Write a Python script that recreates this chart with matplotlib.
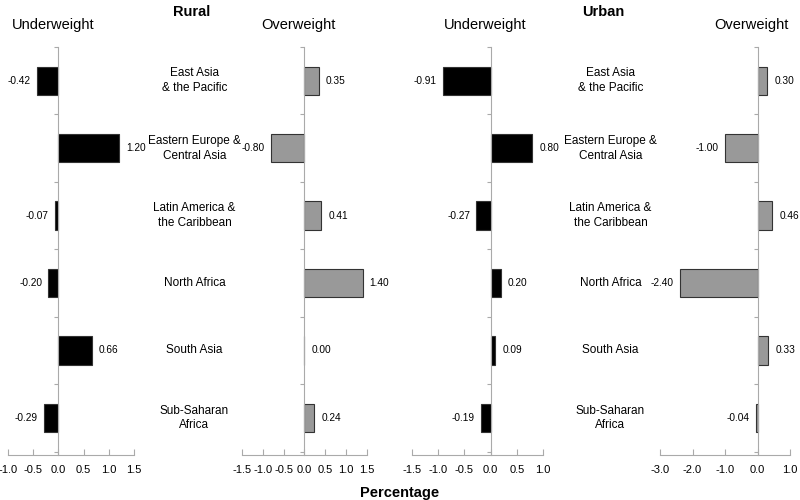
import numpy as np
import matplotlib.pyplot as plt

plt.rcParams['font.family'] = ['Liberation Sans', 'DejaVu Sans']

regions = ['East Asia\n& the Pacific', 'Eastern Europe &\nCentral Asia',
           'Latin America &\nthe Caribbean', 'North Africa', 'South Asia',
           'Sub-Saharan\nAfrica']

rural_under = [-0.42, 1.20, -0.07, -0.20, 0.66, -0.29]
rural_over = [0.35, -0.80, 0.41, 1.40, 0.00, 0.24]
urban_under = [-0.91, 0.80, -0.27, 0.20, 0.09, -0.19]
urban_over = [0.30, -1.00, 0.46, -2.40, 0.33, -0.04]

under_color = 'black'
over_color = '#999999'
spine_color = '#aaaaaa'

fig = plt.figure(figsize=(8, 5), dpi=100)

bottom, height = 0.09, 0.816
panels = [
    # values, left, width, xlim, xticks, color, heading
    (rural_under, 0.010, 0.1575, (-1.0, 1.5), np.arange(-1.0, 1.51, 0.5), under_color, 'Underweight'),
    (rural_over, 0.3025, 0.156, (-1.5, 1.5), np.arange(-1.5, 1.51, 0.5), over_color, 'Overweight'),
    (urban_under, 0.515, 0.1637, (-1.5, 1.0), np.arange(-1.5, 1.01, 0.5), under_color, 'Underweight'),
    (urban_over, 0.825, 0.1625, (-3.0, 1.0), np.arange(-3.0, 1.01, 1.0), over_color, 'Overweight'),
]

y = np.arange(len(regions))
axes = []
for vals, left, width, xlim, xticks, color, heading in panels:
    ax = fig.add_axes([left, bottom, width, height])
    ax.barh(y, vals, height=0.42, color=color, edgecolor='#333333', linewidth=0.8)
    ax.set_xlim(*xlim)
    ax.set_ylim(5.55, -0.49)
    ax.set_xticks(xticks)
    ax.set_xticklabels(['{:.1f}'.format(t + 0.0) for t in np.round(xticks, 2)], fontsize=8)
    ax.set_yticks(np.arange(-0.5, 6.0, 1.0))
    ax.set_yticklabels([])
    for s in ['top', 'right']:
        ax.spines[s].set_visible(False)
    ax.spines['left'].set_position(('data', 0))
    ax.spines['left'].set_color(spine_color)
    ax.spines['bottom'].set_color(spine_color)
    ax.tick_params(axis='x', direction='in', length=4, color=spine_color, pad=7)
    ax.tick_params(axis='y', direction='out', length=3, color=spine_color)
    for yi, v in zip(y, vals):
        if v >= 0:
            ax.annotate(f'{v:.2f}', (v, yi), xytext=(5, 0), textcoords='offset points',
                        va='center', ha='left', fontsize=7.3)
        else:
            ax.annotate(f'{v:.2f}', (v, yi), xytext=(-4.5, 0), textcoords='offset points',
                        va='center', ha='right', fontsize=7.3)
    span = xlim[1] - xlim[0]
    zero_x = left + width * (0 - xlim[0]) / span
    fig.text(zero_x - 0.007, 0.95, heading, ha='center', va='center', fontsize=10.5)
    axes.append(ax)

# region labels between the pairs
for ax, xc in [(axes[0], 0.243), (axes[2], 0.763)]:
    for yi, name in zip(y, regions):
        pos = ax.transData.transform((0, yi))
        fy = fig.transFigure.inverted().transform(pos)[1]
        fig.text(xc, fy, name, ha='center', va='center', fontsize=8.5, linespacing=1.3)

fig.text(0.24, 0.99, 'Rural', ha='center', va='top', fontsize=10.5, fontweight='bold')
fig.text(0.754, 0.99, 'Urban', ha='center', va='top', fontsize=10.5, fontweight='bold')
fig.text(0.5, 0.015, 'Percentage', ha='center', va='center', fontsize=10.5, fontweight='bold')

fig.savefig('out.png', dpi=100)
